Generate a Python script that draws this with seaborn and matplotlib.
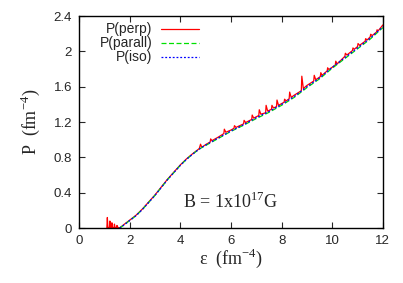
import pandas as pd
import matplotlib
matplotlib.use('Agg')
import matplotlib.pyplot as plt
import seaborn as sns

# smooth curve (parall / iso)
eps_base = [1.6, 1.75, 2.0, 2.25, 2.5, 2.75, 3.0, 3.25, 3.5, 3.75, 4.0, 4.25, 4.5, 4.75,
            5.0, 5.25, 5.5, 6.0, 6.5, 7.0, 7.5, 8.0, 8.5, 9.0, 9.5, 10.0, 10.5, 11.0, 11.5, 12.0]
p_iso = [0.0, 0.03, 0.085, 0.14, 0.21, 0.29, 0.37, 0.46, 0.55, 0.63, 0.71, 0.78, 0.84, 0.895,
         0.94, 0.98, 1.02, 1.10, 1.17, 1.25, 1.32, 1.40, 1.49, 1.60, 1.70, 1.82, 1.93, 2.04, 2.15, 2.28]
p_parall = [0.0, 0.03, 0.085, 0.14, 0.21, 0.29, 0.37, 0.46, 0.55, 0.63, 0.71, 0.78, 0.84, 0.895,
            0.935, 0.975, 1.015, 1.095, 1.165, 1.24, 1.31, 1.39, 1.48, 1.59, 1.69, 1.81, 1.92, 2.03, 2.14, 2.27]

# perpendicular pressure with Landau-level spikes
eps_perp = [1.10, 1.12, 1.14, 1.20, 1.22, 1.24, 1.28, 1.30, 1.32, 1.38, 1.40, 1.42, 1.48, 1.50, 1.53,
            1.6, 1.75, 2.0, 2.25, 2.5, 2.75, 3.0, 3.25, 3.5, 3.75, 4.0, 4.25, 4.5, 4.75, 4.80, 4.85,
            5.0, 5.18, 5.20, 5.25, 5.5, 5.72, 5.74, 5.80, 6.0, 6.12, 6.14, 6.2, 6.5, 6.52, 6.58,
            6.82, 6.84, 6.9, 7.1, 7.12, 7.18, 7.37, 7.39, 7.45, 7.6, 7.62, 7.68, 7.80, 7.82, 7.88,
            8.1, 8.12, 8.18, 8.30, 8.32, 8.38, 8.5, 8.78, 8.80, 8.86, 9.0, 9.27, 9.29, 9.35,
            9.53, 9.55, 9.6, 9.8, 9.82, 9.87, 10.12, 10.14, 10.2, 10.5, 10.52, 10.58, 10.8, 10.82,
            10.87, 11.0, 11.02, 11.08, 11.3, 11.32, 11.38, 11.5, 11.52, 11.58, 11.75, 11.77, 11.82, 12.0]
p_perp = [0.0, 0.12, 0.01, 0.0, 0.08, 0.01, 0.0, 0.06, 0.01, 0.0, 0.045, 0.01, 0.0, 0.03, 0.01,
          0.0, 0.035, 0.09, 0.145, 0.215, 0.295, 0.375, 0.465, 0.555, 0.635, 0.715, 0.785, 0.845, 0.90, 0.95, 0.915,
          0.945, 0.975, 1.01, 0.99, 1.03, 1.07, 1.12, 1.085, 1.11, 1.13, 1.16, 1.14, 1.18, 1.22, 1.195,
          1.23, 1.28, 1.245, 1.275, 1.34, 1.29, 1.305, 1.39, 1.325, 1.345, 1.39, 1.36, 1.375, 1.45, 1.39,
          1.425, 1.46, 1.44, 1.465, 1.54, 1.48, 1.505, 1.555, 1.72, 1.58, 1.615, 1.665, 1.73, 1.68,
          1.715, 1.76, 1.73, 1.78, 1.815, 1.795, 1.845, 1.89, 1.86, 1.945, 1.98, 1.96, 2.01, 2.04,
          2.025, 2.055, 2.09, 2.07, 2.115, 2.145, 2.13, 2.165, 2.195, 2.18, 2.22, 2.245, 2.235, 2.30]

perp_df = pd.DataFrame({'eps': eps_perp, 'P': p_perp})
base_df = pd.DataFrame({'eps': eps_base, 'parall': p_parall, 'iso': p_iso})

sns.set_style('ticks')
plt.rcParams['font.family'] = ['Liberation Sans', 'DejaVu Sans']

fig = plt.figure(figsize=(4.03, 2.83), dpi=100)
ax = fig.add_axes([0.196, 0.194, 0.754, 0.749])

sns.lineplot(data=perp_df, x='eps', y='P', color='#ff0000', lw=0.9, label='P(perp)', ax=ax)
sns.lineplot(data=base_df, x='eps', y='parall', color='#00e000', lw=0.9, label='P(parall)',
             ax=ax, dashes=False, linestyle=(0, (4, 2)))
sns.lineplot(data=base_df, x='eps', y='iso', color='#0000ff', lw=0.9, label='P(iso)',
             ax=ax, dashes=False, linestyle=(0, (1.5, 1.5)))

ax.set_xlim(0, 12)
ax.set_ylim(0, 2.4)
ax.set_xticks([0, 2, 4, 6, 8, 10, 12])
ax.set_yticks([0, 0.4, 0.8, 1.2, 1.6, 2.0, 2.4])
ax.set_yticklabels(['0', '0.4', '0.8', '1.2', '1.6', '2', '2.4'])
ax.tick_params(direction='in', length=4, width=0.8, labelsize=9.5, top=True, right=True, pad=5)
for s in ax.spines.values():
    s.set_linewidth(1.0)
    s.set_color('black')

ax.set_xlabel(r'$\mathregular{\varepsilon}$  (fm$^{\mathregular{-4}}$)', family='Liberation Serif', fontsize=13, labelpad=0)
ax.set_ylabel(r'P  (fm$^{\mathregular{-4}}$)', family='Liberation Serif', fontsize=13, labelpad=8)
ax.text(4.1, 0.3, r'B = 1x10$^{\mathregular{17}}$G', family='Liberation Serif', fontsize=13, va='center')

leg = ax.legend(loc='upper right', bbox_to_anchor=(0.408, 0.99), frameon=False, markerfirst=False,
                fontsize=10, handlelength=2.7, labelspacing=0.0, handletextpad=0.65,
                borderaxespad=0.0, borderpad=0.3)

fig.savefig('out.png', dpi=100)
